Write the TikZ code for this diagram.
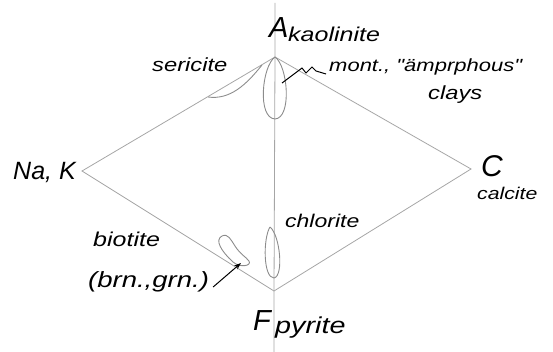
\documentclass[tikz,border=0pt]{standalone}
\usepackage{fontspec}
\setmainfont{Liberation Sans}
\newfontfamily\hand[FakeStretch=1.25]{Liberation Sans}
\usetikzlibrary{arrows.meta}
\begin{document}
\begin{tikzpicture}[x=1pt,y=-1pt,
 edge/.style={draw=black!35, line width=0.8pt},
 blob/.style={draw=black!45, line width=0.9pt},
 lead/.style={draw=black, line width=1pt},
 lbl/.style={inner sep=0pt, anchor=base west, font=\hand\itshape\fontsize{#1}{#1}\selectfont},
 big/.style={inner sep=0pt, anchor=base west, font=\itshape\fontsize{#1}{#1}\selectfont}]
\useasboundingbox (0,0) rectangle (553,352);
\coordinate (A) at (275,57);
\coordinate (K) at (82,171);
\coordinate (C) at (471,169);
\coordinate (F) at (274,291);
\coordinate (top) at (275,3);
\coordinate (bot) at (274,352);
\draw[edge] (K) -- (A) -- (C) -- (F) -- cycle;
\draw[edge] (top) -- (A) -- (F) -- (bot);
% loops
\draw[blob] (A) .. controls (262,66) and (257,118) .. (275,119) .. controls (292,118) and (288,66) .. (A);
\draw[blob] (208,97) .. controls (230,100) and (246,85) .. (262,65);
\draw[blob] (270,227) .. controls (263,238) and (263,278) .. (274,278) .. controls (284,276) and (280,235) .. (270,227);
\draw[blob] (222,236) .. controls (214,240) and (222,252) .. (233,262) .. controls (240,268) and (252,266) .. (249,261) .. controls (246,257) and (240,254) .. (235,246) .. controls (231,240) and (228,233) .. (222,236);
% labels
\node[big=29] (lA) at (269,38) {A};
\node[lbl=20] (kao) at (288,42) {kaolinite};
\node[lbl=19] (ser) at (152,72) {sericite};
\node[lbl=17.6] (mont) at (329,72) {mont., "ämprphous"};
\node[lbl=19] (clay) at (428,100) {clays};
\node[big=25] (na) at (13,180) {Na, K};
\node[big=30] (lC) at (481,177) {C};
\node[lbl=17] (cal) at (477,200) {calcite};
\node[lbl=18.4] (chl) at (285,228) {chlorite};
\node[lbl=20] (bio) at (93,247) {biotite};
\node[lbl=22] (brn) at (88,287) {(brn.,grn.)};
\node[big=29] (lF) at (253,330) {F};
\node[lbl=23] (pyr) at (275,333) {pyrite};
% leaders
\coordinate (kp) at (282,83);
\coordinate (bp) at (241,263);
\draw[lead] (kp) -- (302,68) -- (306,73) -- (312,67) -- (316,71) -- ([xshift=-3pt,yshift=-2pt]mont.base west);
\draw[lead, -{Stealth[length=7pt,width=5pt]}] ([xshift=4pt]brn.base east) -- (bp);
\end{tikzpicture}
\end{document}
